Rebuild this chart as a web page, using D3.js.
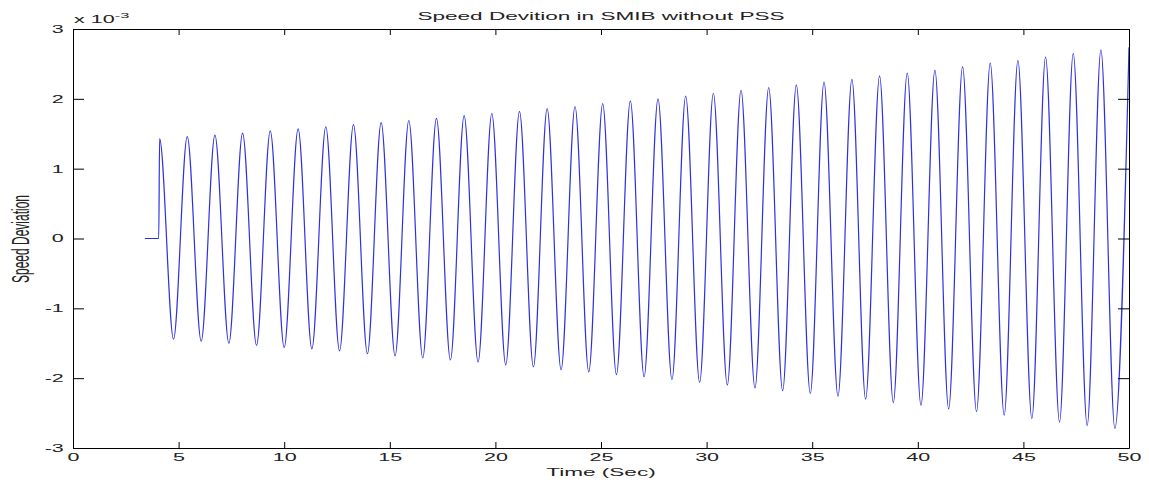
<!doctype html>
<html>
  <head>
    <meta charset="utf-8">
    <script src="https://cdnjs.cloudflare.com/ajax/libs/d3/7.8.5/d3.min.js"></script>
    <style>
      body { margin: 0; background: #fff; }
      text { font-family: Arial, "Liberation Sans", sans-serif; fill: #222; }
    </style>
  </head>
  <body>
    <svg id="chart" width="1149" height="484"></svg>
    <script>
      // values are in units of 10^-3
      let xTicks = [0, 5, 10, 15, 20, 25, 30, 35, 40, 45, 50];
      let yTicks = [-3, -2, -1, 0, 1, 2, 3];

      // flat part before the disturbance
      let startTimes = [3.40, 4.06];
      let startValues = [0, 0];

      let peakTimes = [4.10, 5.41, 6.72, 8.03, 9.34, 10.66, 11.97, 13.28, 14.59, 15.90,
        17.21, 18.52, 19.83, 21.14, 22.45, 23.77, 25.08, 26.39, 27.70, 29.01,
        30.32, 31.63, 32.94, 34.25, 35.56, 36.88, 38.19, 39.50, 40.81, 42.12,
        43.43, 44.74, 46.05, 47.36, 48.67];
      let peakValues = [1.43, 1.46, 1.48, 1.51, 1.54, 1.57, 1.60, 1.63, 1.66, 1.69,
        1.72, 1.76, 1.79, 1.82, 1.86, 1.89, 1.93, 1.97, 2.00, 2.04,
        2.08, 2.12, 2.16, 2.20, 2.24, 2.28, 2.33, 2.37, 2.41, 2.46,
        2.51, 2.55, 2.60, 2.65, 2.70];

      let troughTimes = [4.76, 6.07, 7.38, 8.69, 10.00, 11.31, 12.62, 13.94, 15.25, 16.56,
        17.87, 19.18, 20.49, 21.80, 23.11, 24.42, 25.73, 27.04, 28.36, 29.67,
        30.98, 32.29, 33.60, 34.91, 36.22, 37.53, 38.84, 40.15, 41.46, 42.78,
        44.09, 45.40, 46.71, 48.02, 49.33];
      let troughValues = [-1.44, -1.47, -1.50, -1.53, -1.56, -1.58, -1.61, -1.65, -1.68, -1.71,
        -1.74, -1.77, -1.81, -1.84, -1.88, -1.91, -1.95, -1.98, -2.02, -2.06,
        -2.10, -2.14, -2.18, -2.22, -2.26, -2.30, -2.35, -2.39, -2.44, -2.48,
        -2.53, -2.58, -2.63, -2.68, -2.72];

      let endTime = 50, endValue = 2.74;

      var svg = d3.select("#chart");
      var margin = {top: 29, right: 20, bottom: 36, left: 73};
      var W = 1149 - margin.left - margin.right;
      var H = 484 - margin.top - margin.bottom;
      var SX = 2.05; // the picture is stretched sideways

      var g = svg.append("g").attr("transform", "translate(" + margin.left + "," + margin.top + ")");

      var x = d3.scaleLinear().domain([0, 50]).range([0, W]);
      var y = d3.scaleLinear().domain([-3, 3]).range([H, 0]);

      // build the series
      var pts = [];
      startTimes.forEach((t, i) => pts.push([t, startValues[i]]));
      peakTimes.forEach((t, i) => {
        pts.push([t, peakValues[i]]);
        pts.push([troughTimes[i], troughValues[i]]);
      });
      pts.push([endTime, endValue]);

      var line = d3.line()
        .x(d => x(d[0]))
        .y(d => y(d[1]))
        .curve(d3.curveMonotoneX);

      g.append("path")
        .datum(pts)
        .attr("d", line)
        .attr("fill", "none")
        .attr("stroke", "#3030e0")
        .attr("stroke-width", 1.2);

      // axes (MATLAB style, ticks inside on all four sides)
      var fmt = d => String(d);
      var axBottom = g.append("g").attr("transform", "translate(0," + H + ")")
        .call(d3.axisBottom(x).tickValues(xTicks).tickFormat(fmt).tickSizeInner(-6).tickSizeOuter(0).tickPadding(6));
      var axTop = g.append("g")
        .call(d3.axisTop(x).tickValues(xTicks).tickSizeInner(-6).tickSizeOuter(0).tickFormat(""));
      var axLeft = g.append("g")
        .call(d3.axisLeft(y).tickValues(yTicks).tickFormat(fmt).tickSizeInner(-11).tickSizeOuter(0));
      var axRight = g.append("g").attr("transform", "translate(" + W + ",0)")
        .call(d3.axisRight(y).tickValues(yTicks).tickSizeInner(-11).tickSizeOuter(0).tickFormat(""));

      [axBottom, axTop, axLeft, axRight].forEach(a => {
        a.select(".domain").attr("stroke", "#000");
        a.selectAll(".tick line").attr("stroke", "#000");
      });

      axBottom.selectAll("text")
        .style("font-size", "10.5px")
        .attr("fill", "#222")
        .attr("transform", "scale(" + SX + ",1)");
      axLeft.selectAll("text")
        .style("font-size", "10.5px")
        .attr("fill", "#222")
        .attr("x", -4.5)
        .attr("transform", "scale(" + SX + ",1)");

      // exponent
      var ex = svg.append("text")
        .attr("transform", "translate(74,23) scale(" + SX + ",1)")
        .style("font-size", "10.5px");
      ex.append("tspan").text("x 10");
      ex.append("tspan").attr("dy", -5).style("font-size", "8px").text("-3");

      // title and labels
      svg.append("text")
        .attr("transform", "translate(601,19.5) scale(" + SX + ",1)")
        .attr("text-anchor", "middle")
        .style("font-size", "11px")
        .text("Speed Devition in SMIB without PSS");

      svg.append("text")
        .attr("transform", "translate(601,476) scale(" + SX + ",1)")
        .attr("text-anchor", "middle")
        .style("font-size", "11px")
        .text("Time (Sec)");

      svg.append("text")
        .attr("transform", "translate(29,239) scale(" + SX + ",1) rotate(-90)")
        .attr("text-anchor", "middle")
        .style("font-size", "12px")
        .text("Speed Deviation");
    </script>
  </body>
</html>
